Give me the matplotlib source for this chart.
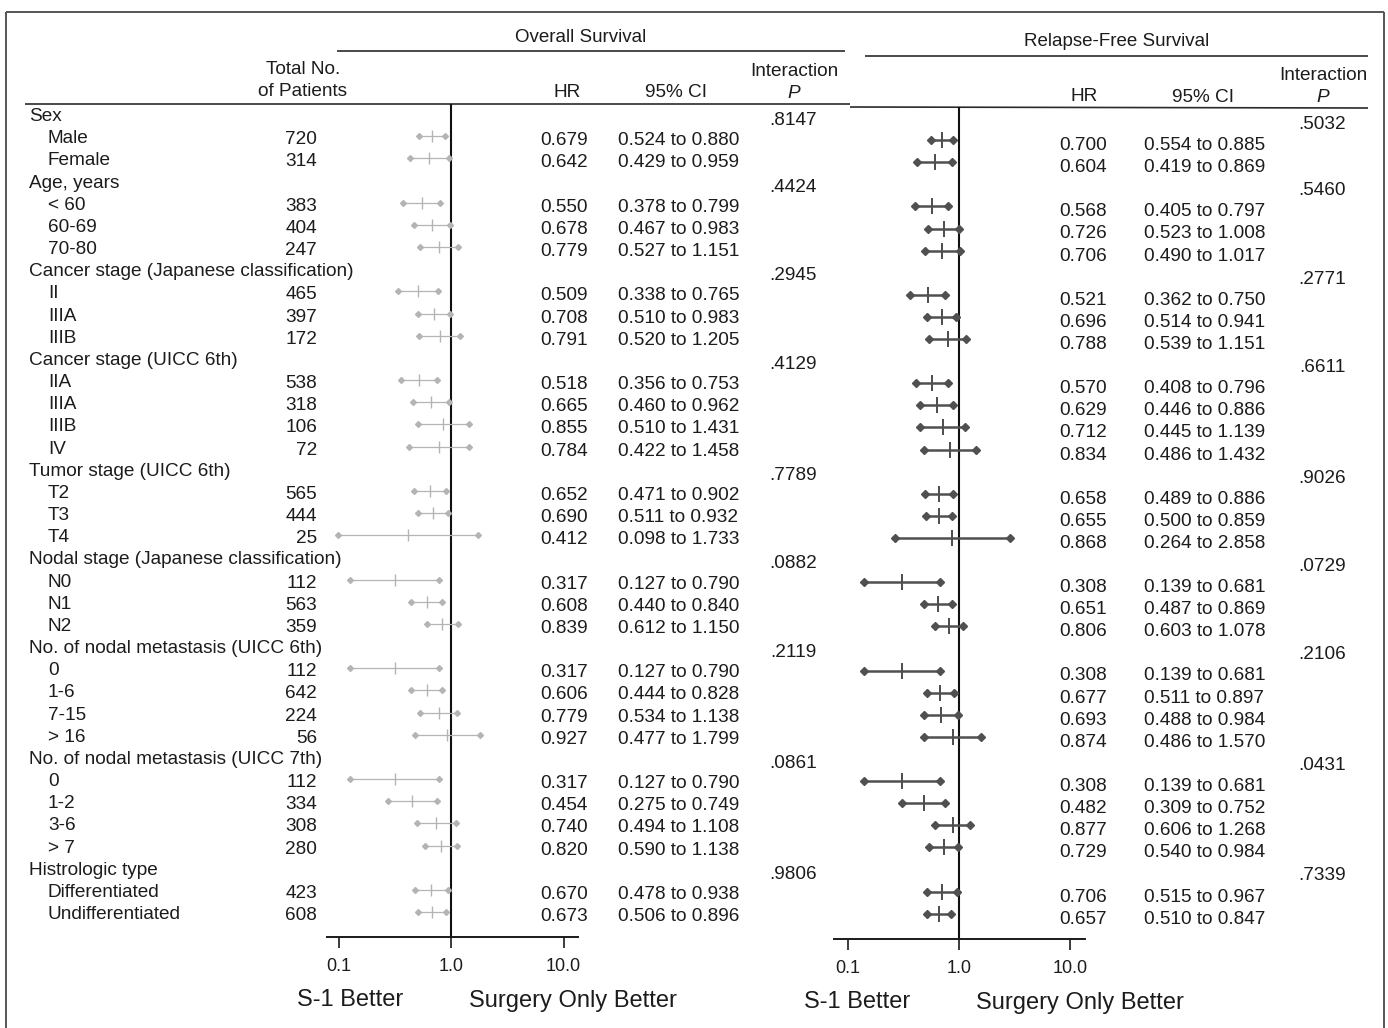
import matplotlib
matplotlib.use("Agg")
import matplotlib.pyplot as plt
import numpy as np

# ─── Data ─────────────────────────────────────────────────────────────────────

row_labels = [
    "Sex", "Male", "Female",
    "Age, years", "< 60", "60-69", "70-80",
    "Cancer stage (Japanese classification)", "II", "IIIA", "IIIB",
    "Cancer stage (UICC 6th)", "IIA", "IIIA", "IIIB", "IV",
    "Tumor stage (UICC 6th)", "T2", "T3", "T4",
    "Nodal stage (Japanese classification)", "N0", "N1", "N2",
    "No. of nodal metastasis (UICC 6th)", "0", "1-6", "7-15", "> 16",
    "No. of nodal metastasis (UICC 7th)", "0", "1-2", "3-6", "> 7",
    "Histrologic type", "Differentiated", "Undifferentiated",
]

n_patients = [None, 720, 314, None, 383, 404, 247, None, 465, 397, 172,
              None, 538, 318, 106, 72, None, 565, 444, 25, None, 112, 563, 359,
              None, 112, 642, 224, 56, None, 112, 334, 308, 280, None, 423, 608]

os_hr = [None, 0.679, 0.642, None, 0.550, 0.678, 0.779, None, 0.509, 0.708, 0.791,
         None, 0.518, 0.665, 0.855, 0.784, None, 0.652, 0.690, 0.412,
         None, 0.317, 0.608, 0.839, None, 0.317, 0.606, 0.779, 0.927,
         None, 0.317, 0.454, 0.740, 0.820, None, 0.670, 0.673]
os_lo = [None, 0.524, 0.429, None, 0.378, 0.467, 0.527, None, 0.338, 0.510, 0.520,
         None, 0.356, 0.460, 0.510, 0.422, None, 0.471, 0.511, 0.098,
         None, 0.127, 0.440, 0.612, None, 0.127, 0.444, 0.534, 0.477,
         None, 0.127, 0.275, 0.494, 0.590, None, 0.478, 0.506]
os_hi = [None, 0.880, 0.959, None, 0.799, 0.983, 1.151, None, 0.765, 0.983, 1.205,
         None, 0.753, 0.962, 1.431, 1.458, None, 0.902, 0.932, 1.733,
         None, 0.790, 0.840, 1.150, None, 0.790, 0.828, 1.138, 1.799,
         None, 0.790, 0.749, 1.108, 1.138, None, 0.938, 0.896]
os_p = [".8147", None, None, ".4424", None, None, None, ".2945", None, None, None,
        ".4129", None, None, None, None, ".7789", None, None, None,
        ".0882", None, None, None, ".2119", None, None, None, None,
        ".0861", None, None, None, None, ".9806", None, None]

rfs_hr = [None, 0.700, 0.604, None, 0.568, 0.726, 0.706, None, 0.521, 0.696, 0.788,
          None, 0.570, 0.629, 0.712, 0.834, None, 0.658, 0.655, 0.868,
          None, 0.308, 0.651, 0.806, None, 0.308, 0.677, 0.693, 0.874,
          None, 0.308, 0.482, 0.877, 0.729, None, 0.706, 0.657]
rfs_lo = [None, 0.554, 0.419, None, 0.405, 0.523, 0.490, None, 0.362, 0.514, 0.539,
          None, 0.408, 0.446, 0.445, 0.486, None, 0.489, 0.500, 0.264,
          None, 0.139, 0.487, 0.603, None, 0.139, 0.511, 0.488, 0.486,
          None, 0.139, 0.309, 0.606, 0.540, None, 0.515, 0.510]
rfs_hi = [None, 0.885, 0.869, None, 0.797, 1.008, 1.017, None, 0.750, 0.941, 1.151,
          None, 0.796, 0.886, 1.139, 1.432, None, 0.886, 0.859, 2.858,
          None, 0.681, 0.869, 1.078, None, 0.681, 0.897, 0.984, 1.570,
          None, 0.681, 0.752, 1.268, 0.984, None, 0.967, 0.847]
rfs_p = [".5032", None, None, ".5460", None, None, None, ".2771", None, None, None,
         ".6611", None, None, None, None, ".9026", None, None, None,
         ".0729", None, None, None, ".2106", None, None, None, None,
         ".0431", None, None, None, None, ".7339", None, None]

ticks = [0.1, 1.0, 10.0]
tick_labels = ["0.1", "1.0", "10.0"]

# ─── Layout (pixels) ──────────────────────────────────────────────────────────

W, H = 1388, 1028
FONT = "Liberation Sans"
FS = 13.7
TXT = "#1c1c1c"
TXT_SHIFT = 2.5                # va="center" sits a touch high, nudge down

OS_Y0, OS_DY = 114, 22.17      # row 0 centre, row step (left panel)
RFS_Y0, RFS_DY = 118, 22.1     # right panel sits a few px lower (scan tilt)

plt.rcParams.update({"font.family": FONT, "text.color": TXT})

fig = plt.figure(figsize=(W / 100, H / 100), dpi=100)
bg = fig.add_axes([0, 0, 1, 1])
bg.set_xlim(0, W)
bg.set_ylim(H, 0)
bg.axis("off")


def px_rect(x0, x1, y0, y1):
    return [x0 / W, 1 - y1 / H, (x1 - x0) / W, (y1 - y0) / H]


def rule(x0, x1, y0, y1, lw=1.2, color="#2a2a2a"):
    bg.plot([x0, x1], [y0, y1], color=color, lw=lw, solid_capstyle="butt")


def txt(x, y, s, ha="left", fs=FS, **kw):
    bg.text(x, y + TXT_SHIFT, s, ha=ha, va="center", fontsize=fs,
            color=TXT, **kw)


# ─── Frame and header rules ───────────────────────────────────────────────────

rule(6, 1384, 12, 12, lw=1.4, color="#555555")
rule(6, 6, 12, 1028, lw=1.4, color="#555555")
rule(1384, 1384, 12, 1028, lw=1.4, color="#555555")

rule(337, 845, 51, 51)
rule(865, 1368, 56, 56)
rule(25, 850, 104, 104)
rule(850, 1368, 107, 108)

txt(581, 35, "Overall Survival", ha="center", fs=13.5)
txt(1117, 39, "Relapse-Free Survival", ha="center", fs=13.5)
txt(303, 67, "Total No.", ha="center")
txt(303, 89, "of Patients", ha="center")
txt(567, 90, "HR", ha="center")
txt(676, 90, "95% CI", ha="center")
txt(794, 69, "Interaction", ha="center")
txt(794, 91, "P", ha="center", style="italic")
txt(1084, 94, "HR", ha="center")
txt(1203, 95, "95% CI", ha="center")
txt(1323, 73, "Interaction", ha="center")
txt(1323, 95, "P", ha="center", style="italic")

# ─── Row text ─────────────────────────────────────────────────────────────────

for i, lab in enumerate(row_labels):
    y_os = OS_Y0 + OS_DY * i
    y_rfs = RFS_Y0 + RFS_DY * i
    if n_patients[i] is None:
        txt(29, y_os, lab)
    else:
        txt(48, y_os, lab)
        txt(317, y_os + 1, str(n_patients[i]), ha="right")
        txt(588, y_os + 2, f"{os_hr[i]:.3f}", ha="right")
        txt(618, y_os + 2, f"{os_lo[i]:.3f} to {os_hi[i]:.3f}")
        txt(1107, y_rfs + 3, f"{rfs_hr[i]:.3f}", ha="right")
        txt(1144, y_rfs + 3, f"{rfs_lo[i]:.3f} to {rfs_hi[i]:.3f}")
    if os_p[i]:
        txt(793, y_os + 4, os_p[i], ha="center")
    if rfs_p[i]:
        txt(1322, y_rfs + 4, rfs_p[i], ha="center")

# ─── Forest panels ────────────────────────────────────────────────────────────


def forest(x0, x1, x_one, decade, y_top, y_bot, y0, dy, hr, lo, hi,
           color, lw, ms, tick_ms):
    ax = fig.add_axes(px_rect(x0, x1, y_top, y_bot))
    ax.set_facecolor("none")
    ax.set_xscale("log")
    ax.set_xlim(10 ** ((x0 - x_one) / decade), 10 ** ((x1 - x_one) / decade))
    ax.set_ylim((y_bot - y0) / dy, (y_top - y0) / dy)
    for s in ("top", "right", "left"):
        ax.spines[s].set_visible(False)
    ax.spines["bottom"].set_linewidth(1.4)
    ax.spines["bottom"].set_color("#1a1a1a")
    ax.axvline(1.0, color="#111111", lw=1.5, zorder=1)

    rows = [i for i in range(len(hr)) if hr[i] is not None]
    yy = np.array(rows, dtype=float)
    h = np.array([hr[i] for i in rows])
    l = np.array([lo[i] for i in rows])
    u = np.array([hi[i] for i in rows])
    ax.hlines(yy, l, u, color=color, lw=lw, zorder=3)
    ax.plot(l, yy, "D", ms=ms, color=color, mec=color, zorder=4)
    ax.plot(u, yy, "D", ms=ms, color=color, mec=color, zorder=4)
    ax.plot(h, yy, "|", ms=tick_ms, mew=max(lw * 0.8, 1.0), color=color, zorder=4)

    ax.set_yticks([])
    ax.set_xticks(ticks)
    ax.set_xticklabels(tick_labels, fontsize=13, color=TXT)
    ax.xaxis.set_minor_locator(matplotlib.ticker.NullLocator())
    ax.tick_params(axis="x", direction="out", length=8, width=1.2,
                   pad=7, color="#1a1a1a")
    return ax


forest(327, 578, 451, 112.5, 104, 937, OS_Y0, OS_DY,
       os_hr, os_lo, os_hi, "#b4b4b4", 0.9, 3.0, 8)
forest(834, 1085, 959, 111.0, 107, 939, RFS_Y0, RFS_DY,
       rfs_hr, rfs_lo, rfs_hi, "#505050", 1.8, 4.5, 11)

# ─── Direction labels ─────────────────────────────────────────────────────────

txt(350, 998, "S-1 Better", ha="center", fs=17)
txt(573, 999, "Surgery Only Better", ha="center", fs=17)
txt(857, 1000, "S-1 Better", ha="center", fs=17)
txt(1080, 1001, "Surgery Only Better", ha="center", fs=17)

fig.savefig("out.png", dpi=100, facecolor="white")
